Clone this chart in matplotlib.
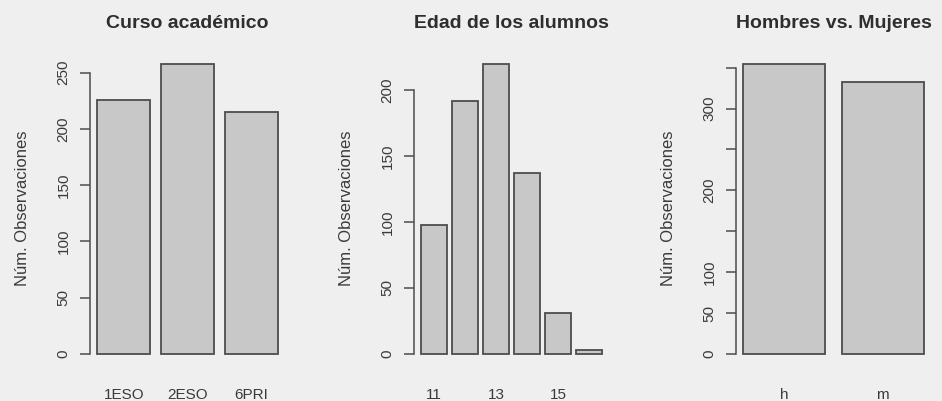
import numpy as np
import matplotlib
matplotlib.use("Agg")
import matplotlib.pyplot as plt

plt.rcParams['font.family'] = ['Liberation Sans', 'DejaVu Sans']

# datos
cursos = ['1ESO', '2ESO', '6PRI']
n_cursos = [226, 258, 215]

edades = ['11', '12', '13', '14', '15', '16']
n_edades = [98, 192, 220, 137, 31, 3]

sexos = ['h', 'm']
n_sexos = [355, 332]

titulos = ['Curso académico', 'Edad de los alumnos', 'Hombres vs. Mujeres']
yticks = [np.arange(0, 251, 50), np.arange(0, 201, 50), np.arange(0, 351, 50)]
ylabels_hidden = [[], [], [150, 250, 350]]
xlabels_hidden = [[], ['12', '14', '16'], []]

bg = '#efefef'
bar_col = '#c8c8c8'
edge_col = '#4d4d4d'
txt_col = '#3a3a3a'

fig = plt.figure(figsize=(9.42, 4.01), dpi=100, facecolor=bg)
W, H = 942.0, 401.0
lefts = [90, 414, 736]
top, bottom, width = 52, 365.5, 195

datos = [(cursos, n_cursos), (edades, n_edades), (sexos, n_sexos)]
for i, (cats, vals) in enumerate(datos):
    ax = fig.add_axes([lefts[i] / W, (H - bottom) / H, width / W, (bottom - top) / H])
    ax.set_facecolor('none')
    n = len(cats)
    # posiciones tipo barplot de R (ancho 1, espacio 0.2)
    x = 0.2 + np.arange(n) * 1.2 + 0.5
    ax.bar(x, vals, width=1.0, color=bar_col, edgecolor=edge_col, linewidth=1.3)
    lo, hi = 0.2, 0.2 + n * 1.2 - 0.2
    span = hi - lo
    ax.set_xlim(lo - 0.04 * span, hi + 0.04 * span)
    ymax = max(vals)
    ax.set_ylim(-0.04 * ymax, 1.04 * ymax)

    for s in ['top', 'right', 'bottom']:
        ax.spines[s].set_visible(False)
    ax.spines['left'].set_bounds(yticks[i][0], yticks[i][-1])
    ax.spines['left'].set_color(edge_col)
    ax.spines['left'].set_linewidth(1.1)

    ax.set_yticks(yticks[i])
    ax.set_yticklabels(['' if t in ylabels_hidden[i] else str(t) for t in yticks[i]],
                       rotation=90, va='center')
    ax.tick_params(axis='y', length=7, width=1.1, color=edge_col, pad=7,
                   labelsize=11, labelcolor=txt_col)

    ax.set_xticks(x)
    ax.set_xticklabels(['' if c in xlabels_hidden[i] else c for c in cats])
    ax.tick_params(axis='x', length=0, pad=16, labelsize=11, labelcolor=txt_col)

    ax.set_ylabel('Núm. Observaciones', fontsize=12, color=txt_col, labelpad=19)
    ax.set_title(titulos[i], fontsize=14, fontweight='bold', color='#2e2e2e', pad=17)

fig.savefig('out.png', dpi=100, facecolor=bg)
